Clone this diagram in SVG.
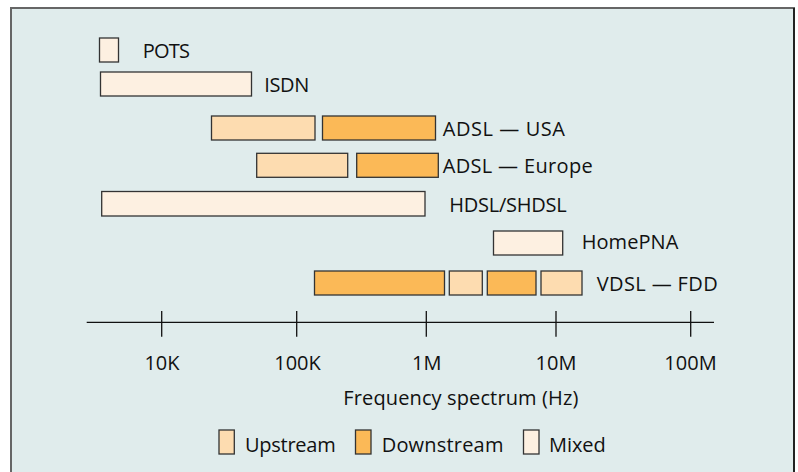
<svg xmlns="http://www.w3.org/2000/svg" width="798" height="472" viewBox="0 0 798 472">
<style>
.t{font-family:"Open Sans","Noto Sans","Liberation Sans",sans-serif;font-size:20px;fill:#111}
.c{text-anchor:middle}
.up{fill:#fddcb0;stroke:#333;stroke-width:1.3}
.dn{fill:#fbb957;stroke:#333;stroke-width:1.3}
.mx{fill:#fdf0e1;stroke:#333;stroke-width:1.3}
.ax{stroke:#111;stroke-width:1.3;fill:none}
</style>
<rect x="0" y="0" width="798" height="472" fill="#ffffff"/>
<rect x="11" y="8" width="783" height="480" fill="#e0ecec" stroke="#666" stroke-width="2"/>
<line x1="794" y1="8" x2="794" y2="472" stroke="#222" stroke-width="2"/>

<g id="pots">
<rect class="mx" x="99.5" y="38" width="19" height="24"/>
<text class="t" x="142.7" y="58.3" textLength="47.3">POTS</text>
</g>
<g id="isdn">
<rect class="mx" x="100.5" y="72" width="151" height="24"/>
<text class="t" x="264.3" y="92" textLength="45">ISDN</text>
</g>
<g id="adsl-usa">
<rect class="up" x="211.5" y="116" width="103.5" height="24"/>
<rect class="dn" x="322.5" y="116" width="113" height="24"/>
<text class="t" x="442.7" y="136" textLength="122.3">ADSL — USA</text>
</g>
<g id="adsl-europe">
<rect class="up" x="256.7" y="153.3" width="91" height="24"/>
<rect class="dn" x="356.7" y="153.3" width="81.6" height="24"/>
<text class="t" x="442.7" y="173.3" textLength="150">ADSL — Europe</text>
</g>
<g id="hdsl">
<rect class="mx" x="101.7" y="191.5" width="323.3" height="24.5"/>
<text class="t" x="449.3" y="212" textLength="117.4">HDSL/SHDSL</text>
</g>
<g id="homepna">
<rect class="mx" x="493.5" y="231" width="69.2" height="24"/>
<text class="t" x="581.7" y="249.3" textLength="96.6">HomePNA</text>
</g>
<g id="vdsl">
<rect class="dn" x="314.5" y="271" width="130" height="24"/>
<rect class="up" x="449.3" y="271" width="33" height="24"/>
<rect class="dn" x="487.3" y="271" width="48.7" height="24"/>
<rect class="up" x="541" y="271" width="41" height="24"/>
<text class="t" x="596.7" y="290.7" textLength="121">VDSL — FDD</text>
</g>

<g id="axis">
<line class="ax" x1="86.7" y1="322.3" x2="714" y2="322.3"/>
<line class="ax" x1="161.7" y1="311" x2="161.7" y2="336.7"/>
<line class="ax" x1="296.7" y1="311" x2="296.7" y2="336.7"/>
<line class="ax" x1="426.3" y1="311" x2="426.3" y2="336.7"/>
<line class="ax" x1="556" y1="311" x2="556" y2="336.7"/>
<line class="ax" x1="690.7" y1="311" x2="690.7" y2="336.7"/>
<text class="t c" x="162" y="370">10K</text>
<text class="t c" x="297.5" y="370">100K</text>
<text class="t c" x="426.7" y="370">1M</text>
<text class="t c" x="556" y="370">10M</text>
<text class="t c" x="690.5" y="370">100M</text>
<text class="t" x="343.3" y="405" textLength="235">Frequency spectrum (Hz)</text>
</g>

<g id="legend">
<rect class="up" x="219" y="430" width="15.3" height="24"/>
<text class="t" x="245" y="451.7" textLength="90.7">Upstream</text>
<rect class="dn" x="355.5" y="430" width="15.5" height="24"/>
<text class="t" x="381.7" y="451.7" textLength="121.7">Downstream</text>
<rect class="mx" x="523.5" y="430" width="15.5" height="24"/>
<text class="t" x="549" y="451.7" textLength="56.7">Mixed</text>
</g>
</svg>
